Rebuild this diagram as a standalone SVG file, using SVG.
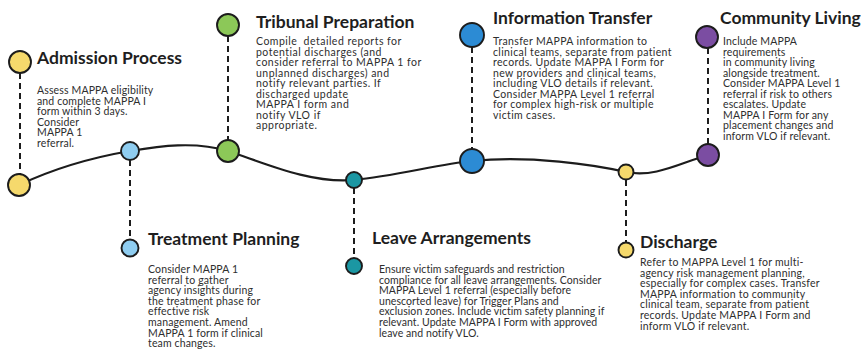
<svg xmlns="http://www.w3.org/2000/svg" width="861" height="350" viewBox="0 0 861 350">
<style>
.bg{fill:#ffffff}
.curve{fill:none;stroke:#1c1c1c;stroke-width:2.2;stroke-linecap:round}
.dash{fill:none;stroke:#1c1c1c;stroke-width:2;stroke-dasharray:6 4}
.dot{stroke:#1c1c1c;stroke-width:1.9}
.title{font-family:Lato,"Liberation Sans",sans-serif;font-weight:700;font-size:17.5px;fill:#1e1e1e}
.body{font-family:Lato,"Liberation Sans",sans-serif;font-size:10.5px;letter-spacing:0.14px;fill:#2e2e2e}
.b-trib{letter-spacing:0.48px}
.b-leave{letter-spacing:0.07px}
.b-info{letter-spacing:0.36px}
.b-dis{letter-spacing:0.23px}
.yellow{fill:#f5d96c}
.lblue{fill:#8fcdf0}
.green{fill:#8cc858}
.teal{fill:#1b97a3}
.blue{fill:#2c8bd4}
.purple{fill:#7b4da2}
</style>
<rect class="bg" x="0" y="0" width="861" height="350"/>
<g id="connectors">
<path class="curve" d="M19,185 C55,168 95,157 130,151 C160,146 195,141 228,151 C262,162 310,184 354,180 C395,176 440,164 472,161 C530,155 595,165 626,172 C655,178 680,163 708,155"/>
<line class="dash" x1="20" y1="73" x2="20" y2="174"/>
<line class="dash" x1="130" y1="160" x2="130" y2="239"/>
<line class="dash" x1="228" y1="36" x2="228" y2="140"/>
<line class="dash" x1="354" y1="188" x2="354" y2="258"/>
<line class="dash" x1="472" y1="47" x2="472" y2="149"/>
<line class="dash" x1="626" y1="180" x2="626" y2="243"/>
<line class="dash" x1="708" y1="48" x2="708" y2="144"/>
</g>
<g id="admission-process">
<circle class="dot yellow" cx="20" cy="62" r="11"/>
<circle class="dot yellow" cx="19" cy="185" r="11"/>
<text class="title" x="37" y="64">Admission Process</text>
<text class="body"><tspan x="37" y="94">Assess MAPPA eligibility</tspan><tspan x="37" y="104.6">and complete MAPPA I</tspan><tspan x="37" y="115.2">form within 3 days.</tspan><tspan x="37" y="125.8">Consider</tspan><tspan x="37" y="136.4">MAPPA 1</tspan><tspan x="37" y="147">referral.</tspan></text>
</g>
<g id="treatment-planning">
<circle class="dot lblue" cx="130" cy="151" r="9"/>
<circle class="dot lblue" cx="130" cy="248" r="8.5"/>
<text class="title" x="148" y="245">Treatment Planning</text>
<text class="body"><tspan x="148" y="273">Consider MAPPA 1</tspan><tspan x="148" y="283.6">referral to gather</tspan><tspan x="148" y="294.2">agency insights during</tspan><tspan x="148" y="304.8">the treatment phase for</tspan><tspan x="148" y="315.4">effective risk</tspan><tspan x="148" y="326">management. Amend</tspan><tspan x="148" y="336.6">MAPPA 1 form if clinical</tspan><tspan x="148" y="347.2">team changes.</tspan></text>
</g>
<g id="tribunal-preparation">
<circle class="dot green" cx="228" cy="25" r="11"/>
<circle class="dot green" cx="228" cy="151" r="11"/>
<text class="title" x="256" y="28">Tribunal Preparation</text>
<text class="body b-trib" xml:space="preserve"><tspan x="256" y="45">Compile  detailed reports for</tspan><tspan x="256" y="55.5">potential discharges (and</tspan><tspan x="256" y="66">consider referral to MAPPA 1 for</tspan><tspan x="256" y="76.5">unplanned discharges) and</tspan><tspan x="256" y="87">notify relevant parties. If</tspan><tspan x="256" y="97.5">discharged update</tspan><tspan x="256" y="108">MAPPA I form and</tspan><tspan x="256" y="118.5">notify VLO if</tspan><tspan x="256" y="129">appropriate.</tspan></text>
</g>
<g id="leave-arrangements">
<circle class="dot teal" cx="354" cy="180" r="8"/>
<circle class="dot teal" cx="354" cy="266" r="8"/>
<text class="title" x="372" y="244">Leave Arrangements</text>
<text class="body b-leave"><tspan x="379" y="273">Ensure victim safeguards and restriction</tspan><tspan x="379" y="283.6">compliance for all leave arrangements. Consider</tspan><tspan x="379" y="294.2">MAPPA Level 1 referral (especially before</tspan><tspan x="379" y="304.8">unescorted leave) for Trigger Plans and</tspan><tspan x="379" y="315.4">exclusion zones. Include victim safety planning if</tspan><tspan x="379" y="326">relevant. Update MAPPA I Form with approved</tspan><tspan x="379" y="336.6">leave and notify VLO.</tspan></text>
</g>
<g id="information-transfer">
<circle class="dot blue" cx="472" cy="35" r="12"/>
<circle class="dot blue" cx="472" cy="161" r="12"/>
<text class="title" x="493" y="24">Information Transfer</text>
<text class="body b-info"><tspan x="493" y="45">Transfer MAPPA information to</tspan><tspan x="493" y="55.5">clinical teams, separate from patient</tspan><tspan x="493" y="66">records. Update MAPPA I Form for</tspan><tspan x="493" y="76.5">new providers and clinical teams,</tspan><tspan x="493" y="87">including VLO details if relevant.</tspan><tspan x="493" y="97.5">Consider MAPPA Level 1 referral</tspan><tspan x="493" y="108">for complex high-risk or multiple</tspan><tspan x="493" y="118.5">victim cases.</tspan></text>
</g>
<g id="discharge">
<circle class="dot yellow" cx="626" cy="172" r="7.5"/>
<circle class="dot yellow" cx="626" cy="250" r="7.5"/>
<text class="title" x="640" y="248">Discharge</text>
<text class="body b-dis"><tspan x="640" y="266">Refer to MAPPA Level 1 for multi-</tspan><tspan x="640" y="276.6">agency risk management planning,</tspan><tspan x="640" y="287.2">especially for complex cases. Transfer</tspan><tspan x="640" y="297.8">MAPPA information to community</tspan><tspan x="640" y="308.4">clinical team, separate from patient</tspan><tspan x="640" y="319">records. Update MAPPA I Form and</tspan><tspan x="640" y="329.6">inform VLO if relevant.</tspan></text>
</g>
<g id="community-living">
<circle class="dot purple" cx="707" cy="37" r="11"/>
<circle class="dot purple" cx="708" cy="155" r="11"/>
<text class="title" x="720" y="24">Community Living</text>
<text class="body"><tspan x="723" y="45">Include MAPPA</tspan><tspan x="723" y="55.5">requirements</tspan><tspan x="723" y="66">in community living</tspan><tspan x="723" y="76.5">alongside treatment.</tspan><tspan x="723" y="87">Consider MAPPA Level 1</tspan><tspan x="723" y="97.5">referral if risk to others</tspan><tspan x="723" y="108">escalates. Update</tspan><tspan x="723" y="118.5">MAPPA I Form for any</tspan><tspan x="723" y="129">placement changes and</tspan><tspan x="723" y="139.5">inform VLO if relevant.</tspan></text>
</g>
</svg>
